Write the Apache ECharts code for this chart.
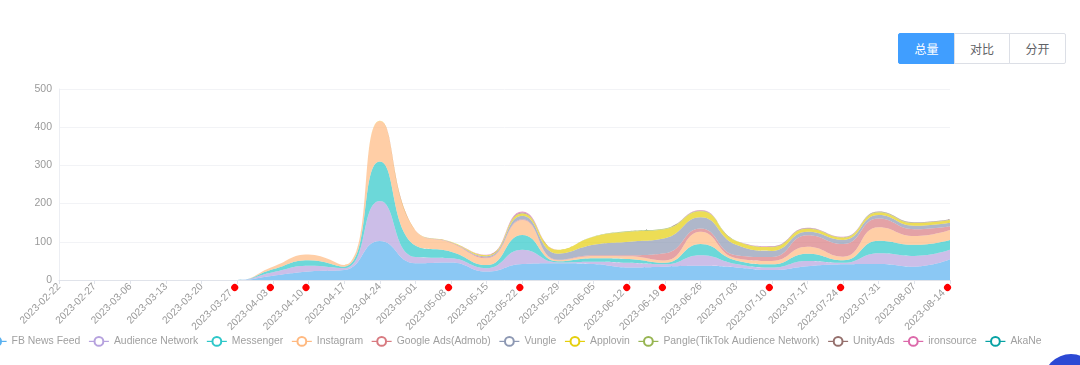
<!DOCTYPE html>
<html>
<head>
<meta charset="utf-8">
<script src="https://cdn.jsdelivr.net/npm/echarts@6/dist/echarts.min.js"></script>
<style>
  html, body { margin:0; padding:0; background:#fff; }
  #wrap { position:relative; width:1080px; height:365px; overflow:hidden; }
  #chart { position:absolute; left:0; top:0; width:1080px; height:365px; }
  .btns { position:absolute; left:898px; top:33px; display:flex; z-index:2; }
  .btn { width:56px; height:31px; box-sizing:border-box; border:1px solid #dcdfe6; margin-left:-1px;
         font-family:"Noto Sans CJK SC", sans-serif; font-size:12px; color:#606266;
         display:flex; align-items:center; justify-content:center; background:#fff; }
  .btn.active { background:#409eff; border-color:#409eff; color:#fff; border-radius:2px 0 0 2px; margin-left:0; width:57px; }
  .btn.last { border-radius:0 2px 2px 0; width:57px; }
  .fab { position:absolute; left:1043px; top:354px; width:56px; height:56px; border-radius:50%; background:#2c49d4; z-index:2; }
</style>
</head>
<body>
<div id="wrap">
  <div id="chart"></div>
  <div class="btns"><div class="btn active">总量</div><div class="btn">对比</div><div class="btn last">分开</div></div>
  <div class="fab"></div>
</div>
<script>
const categories = ['2023-02-22','2023-02-27','2023-03-06','2023-03-13','2023-03-20','2023-03-27','2023-04-03','2023-04-10','2023-04-17','2023-04-24','2023-05-01','2023-05-08','2023-05-15','2023-05-22','2023-05-29','2023-06-05','2023-06-12','2023-06-19','2023-06-26','2023-07-03','2023-07-10','2023-07-17','2023-07-24','2023-07-31','2023-08-07','2023-08-14'];
const markedDates = ['2023-03-27','2023-04-03','2023-04-10','2023-05-08','2023-05-22','2023-06-12','2023-06-19','2023-07-10','2023-07-24','2023-08-14'];
const seriesNames = ['FB News Feed','Audience Network','Messenger','Instagram','Google Ads(Admob)','Vungle','Applovin','Pangle(TikTok Audience Network)','UnityAds','ironsource','AkaNe'];
const fbNewsFeed      = [0,0,0,0,0,0, 11,22,26,102,44,46,22,42,44,42,33,35,37,33,26,36,41,42,35,54];
const audienceNetwork = [0,0,0,0,0,0, 9,15,5,105,16,11,9,37,2,6,12,6,28,9,7,14,4,28,28,25];
const messenger       = [0,0,0,0,0,0, 8,15,4,103,30,17,8,39,3,9,10,4,29,9,8,19,7,33,29,26];
const instagram       = [0,0,0,0,0,0, 7,15,4,106,40,23,18,39,3,6,7,6,32,6,9,18,9,35,23,26];
const googleAds       = [0,0,0,0,0,0, 0,0,0,0,0,1,2,2,1,2,3,19,9,8,10,30,33,23,18,10];
const vungle          = [0,0,0,0,0,0, 0,0,0,0,0,1,3,9,16,27,35,39,29,27,16,9,11,9,9,9];
const applovin        = [0,0,0,0,0,0, 0,0,0,1,0,1,3,6,10,21,26,24,16,10,10,8,6,7,7,7];
const pangle          = [0,0,0,0,0,0, 0,0,0,0,0,0,0,1,0,1,2,2,1,1,1,1,1,1,1,1];
const unityAds        = [0,0,0,0,0,0, 0,0,0,0,0,0,0,2,0,0,0,0,1,0,1,1,0,1,1,1];
const ironsource      = [0,0,0,0,0,0, 0,0,0,0,0,0,1,2,0,0,0,0,1,0,1,1,1,0,0,0];
const akaNe           = [0,0,0,0,0,0, 0,0,0,0,0,0,0,0,0,0,0,0,0,0,0,0,0,0,0,0];
const yTicks = [0,100,200,300,400,500];

const allData = [fbNewsFeed,audienceNetwork,messenger,instagram,googleAds,vungle,applovin,pangle,unityAds,ironsource,akaNe];
const colors = ['#5ab1ef','#b6a2de','#2ec7c9','#ffb980','#d87a80','#8d98b3','#e5cf0d','#97b552','#95706d','#dc69aa','#07a2a4'];
const FONT = '"Liberation Sans", Arial, sans-serif';

const chart = echarts.init(document.getElementById('chart'));
chart.setOption({
  animation: false,
  color: colors,
  textStyle: { fontFamily: FONT },
  grid: { left: 59, right: 130, top: 89, bottom: 85 },
  legend: {
    left: -19, top: 331,
    itemWidth: 20, itemHeight: 11, itemGap: 8,
    textStyle: { color: '#a0a0a0', fontSize: 10.4, fontFamily: FONT },
    lineStyle: { width: 1.2, opacity: 1 },
    data: seriesNames
  },
  xAxis: {
    type: 'category',
    boundaryGap: false,
    data: categories,
    axisLine: { lineStyle: { color: '#e0e3ea' } },
    axisTick: { show: true, lineStyle: { color: '#e0e3ea' }, length: 4 },
    axisLabel: {
      interval: 0, rotate: 45, color: '#9a9a9a', fontSize: 10.3, fontFamily: FONT, margin: 5,
      formatter: v => markedDates.includes(v) ? '{t|' + v + '}{g|}{dot|}' : '{t|' + v + '}',
      rich: {
        t: { color: '#9a9a9a', fontSize: 10.3, fontFamily: FONT },
        g: { width: 2, height: 7 },
        dot: { width: 7, height: 7, borderRadius: 4, backgroundColor: '#ff0000' }
      }
    }
  },
  yAxis: {
    type: 'value', min: yTicks[0], max: yTicks[yTicks.length - 1], interval: 100,
    axisLine: { show: true, lineStyle: { color: '#eceef3' } },
    axisTick: { show: false },
    axisLabel: { color: '#9a9a9a', fontSize: 10.5, fontFamily: FONT, margin: 7 },
    splitLine: { lineStyle: { color: '#f2f3f6' } }
  },
  series: seriesNames.map((name, i) => ({
    name, type: 'line', stack: 'total', smooth: true,
    showSymbol: false, symbol: 'emptyCircle',
    lineStyle: { width: 0, opacity: 0 },
    areaStyle: { opacity: 0.7 },
    data: allData[i]
  }))
});
</script>
</body>
</html>
